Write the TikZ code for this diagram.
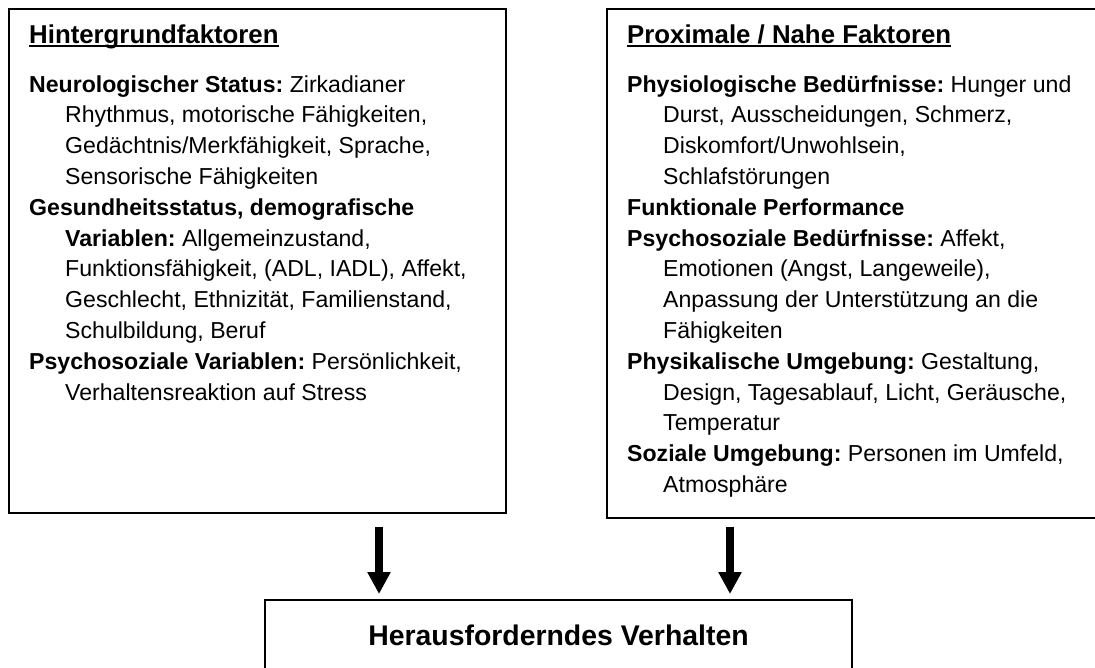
\documentclass[tikz,border=0pt]{standalone}
\usepackage{fontspec}
\setmainfont{Liberation Sans}
\usetikzlibrary{arrows.meta}
\tikzstyle{factbox}=[draw,line width=1.6pt,inner sep=0pt]
\tikzstyle{facttext}=[align=left,inner sep=0pt,anchor=base west,font=\fontsize{23.1}{30.8}\selectfont\frenchspacing]
\tikzstyle{fatarrow}=[line width=8pt,-{Triangle[width=22pt,length=22pt]}]
\newcommand{\ind}{\hspace*{36pt}}
\newcommand{\hdline}[1]{\setbox0\hbox{#1}\rlap{\rule[-4pt]{\wd0}{1.8pt}}\box0}
\newcommand{\headtext}[1]{{\fontsize{25.8}{30.8}\selectfont\bfseries\hdline{#1}}}

\begin{document}
\begin{tikzpicture}[x=1pt,y=-1pt]
	\useasboundingbox (0,0) rectangle (1095,667);
	\node[factbox,minimum width=497pt,minimum height=504pt,anchor=north west] (lbox) at (8,8) {};
	\node[factbox,minimum width=494pt,minimum height=509pt,anchor=north west] (rbox) at (606,8) {};
	\node[factbox,minimum width=587pt,minimum height=72pt,anchor=north,
		font=\fontsize{28.4}{30}\selectfont\bfseries] (out) at (558.5,599) {Herausforderndes Verhalten};
	\node[facttext] (ltxt) at ([shift={(21,392)}]lbox.north west) {%
		\headtext{Hintergrundfaktoren}\\[18.2pt]
		\textbf{Neurologischer Status:} Zirkadianer\\
		\ind Rhythmus, motorische Fähigkeiten,\\
		\ind Gedächtnis/Merkfähigkeit, Sprache,\\
		\ind Sensorische Fähigkeiten\\
		\textbf{Gesundheitsstatus, demografische}\\
		\ind\textbf{Variablen:} Allgemeinzustand,\\
		\ind Funktionsfähigkeit, (ADL, IADL), Affekt,\\
		\ind Geschlecht, Ethnizität, Familienstand,\\
		\ind Schulbildung, Beruf\\
		\textbf{Psychosoziale Variablen:} Persönlichkeit,\\
		\ind Verhaltensreaktion auf Stress};
	\node[facttext] (rtxt) at ([shift={(21,484.4)}]rbox.north west) {%
		\headtext{Proximale / Nahe Faktoren}\\[18.2pt]
		\textbf{Physiologische Bedürfnisse:} Hunger und\\
		\ind Durst, Ausscheidungen, Schmerz,\\
		\ind Diskomfort/Unwohlsein,\\
		\ind Schlafstörungen\\
		\textbf{Funktionale Performance}\\
		\textbf{Psychosoziale Bedürfnisse:} Affekt,\\
		\ind Emotionen (Angst, Langeweile),\\
		\ind Anpassung der Unterstützung an die\\
		\ind Fähigkeiten\\
		\textbf{Physikalische Umgebung:} Gestaltung,\\
		\ind Design, Tagesablauf, Licht, Geräusche,\\
		\ind Temperatur\\
		\textbf{Soziale Umgebung:} Personen im Umfeld,\\
		\ind Atmosphäre};
	\coordinate (la) at (379,0);
	\coordinate (ra) at (730,0);
	\draw[fatarrow,shorten <=13pt,shorten >=5pt] (lbox.south -| la) -- (out.north -| la);
	\draw[fatarrow,shorten <=8pt,shorten >=5pt] (rbox.south -| ra) -- (out.north -| ra);
\end{tikzpicture}
\end{document}
